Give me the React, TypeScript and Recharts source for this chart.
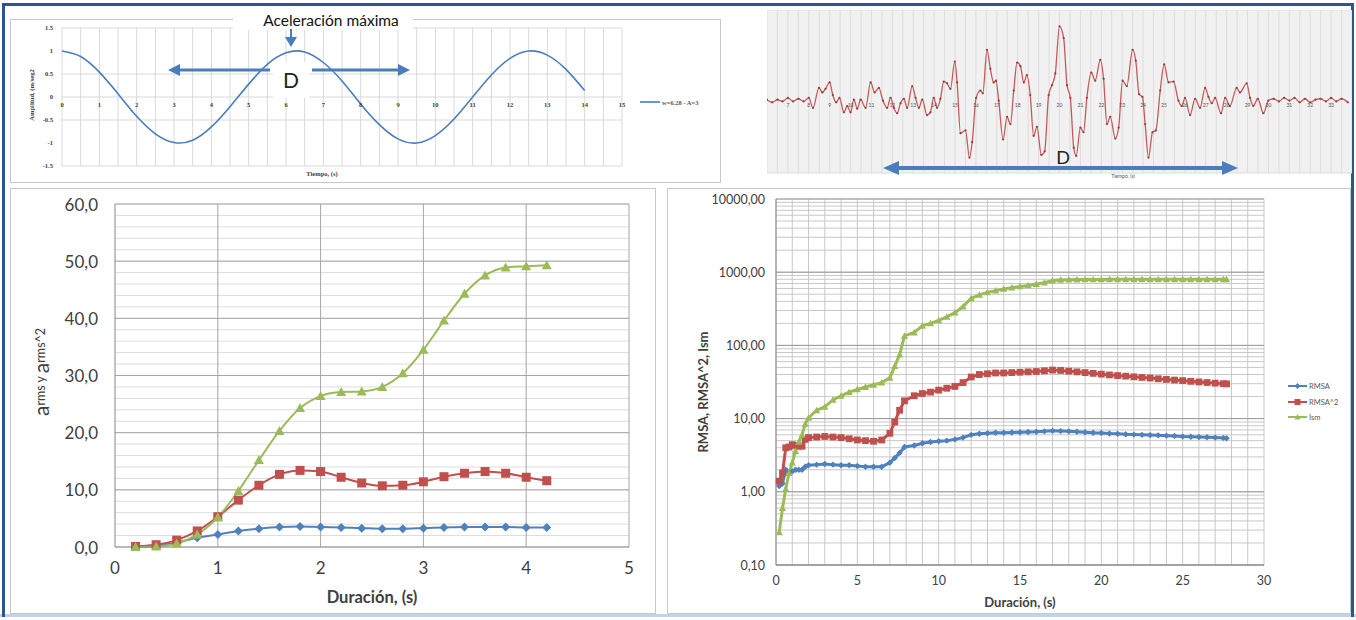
import React from "react";
import { LineChart, Line, XAxis, YAxis, CartesianGrid, ReferenceLine } from "recharts";

// ---------- top left: harmonic, w=6.28 - A=3 ----------
const sineTime = [0, 0.5, 1, 1.5, 2, 2.5, 3, 3.5, 4, 4.5, 5, 5.5, 6, 6.5, 7, 7.5, 8, 8.5, 9, 9.5, 10, 10.5, 11, 11.5, 12, 12.5, 13, 13.5, 14];
const sineAmp = [1, 0.88, 0.54, 0.07, -0.42, -0.8, -0.99, -0.94, -0.65, -0.21, 0.28, 0.71, 0.96, 0.98, 0.75, 0.35, -0.15, -0.6, -0.91, -1.0, -0.84, -0.48, 0.0, 0.48, 0.84, 1.0, 0.91, 0.6, 0.14];
const sineXTicks = Array.from({ length: 31 }, (_, i) => i / 2);
const sineYTicks = [-1.5, -1, -0.5, 0, 0.5, 1, 1.5];

// ---------- top right: accelerogram ----------
const sigTime = [
  6.0, 6.25, 6.5, 6.75, 7.0, 7.25, 7.5, 7.75, 8.0, 8.2, 8.49, 8.65, 8.8, 9.0, 9.15, 9.31, 9.47, 9.68, 9.84, 10.0,
  10.16, 10.32, 10.48, 10.72, 10.96, 11.15, 11.35, 11.55, 11.75, 11.91, 12.07, 12.23, 12.39, 12.55, 12.71, 12.95, 13.11, 13.27, 13.43, 13.66,
  13.82, 13.98, 14.14, 14.3, 14.46, 14.62, 14.78, 14.99, 15.1, 15.26, 15.5, 15.69, 15.82, 16.01, 16.21, 16.33, 16.53, 16.69, 16.85, 16.96,
  17.09, 17.3, 17.49, 17.65, 17.81, 17.97, 18.13, 18.29, 18.44, 18.6, 18.76, 18.92, 19.13, 19.29, 19.48, 19.64, 19.8, 20.0, 20.2, 20.36,
  20.52, 20.68, 20.8, 21.0, 21.15, 21.31, 21.52, 21.71, 21.95, 22.11, 22.27, 22.43, 22.67, 22.83, 23.02, 23.22, 23.5, 23.65, 23.81, 23.97,
  24.1, 24.26, 24.45, 24.61, 24.82, 25.01, 25.22, 25.46, 25.69, 25.85, 26.01, 26.25, 26.49, 26.73, 26.97, 27.13, 27.29, 27.45, 27.73, 27.93,
  28.16, 28.48, 28.64, 28.96, 29.12, 29.28, 29.49, 29.76, 30.0, 30.25, 30.5, 30.75, 31.0, 31.25, 31.5, 31.75, 32.0, 32.25, 32.5, 32.75,
  33.0, 33.25, 33.5, 33.8,
];
const sigValue = [
  0.05, -0.1, 0.05, -0.05, 0.15, -0.05, 0.1, -0.05, 0.15, -0.4, 0.7, 0.45, 0.65, 1.0, 0.3, -0.1, 0.15, -0.65, -0.3, -0.65,
  0.05, -0.45, 0.05, -0.4, 1.0, 0.45, 0.7, 0, -0.4, 0.15, -0.4, -0.7, -0.15, 0.1, -0.4, 0.8, 0.15, -0.4, 0.05, -0.8,
  -0.65, 0.15, -0.4, 0.1, 1.05, 0.95, 0.65, 2.15, 1.0, -1.8, -1.65, -3.15, -2.3, 0.15, 0.55, 0.4, 2.8, 1.75, 1.0, 1.1,
  0, -2.15, -0.9, -1.3, 0.55, 2.1, 1.9, 1.0, 1.4, 0.3, -1.95, -1.45, -3.0, -2.8, 0.3, 0.85, 1.5, 4.1, 3.45, 0.85,
  0.15, -2.6, -3.05, -1.5, -1.75, 0.15, 1.55, 1.1, 2.25, 1.2, -1.3, -0.9, -2.1, -1.5, 1.1, 0.8, 2.8, 2.2, 0.35, 0.2,
  -1.3, -3.15, -1.75, -1.65, 0.55, 2.0, 1.0, 1.05, 0, -0.3, 0.15, -0.8, 0.1, -0.4, 0.7, 0.2, -0.15, 0.15, -0.7, 0.15,
  -0.3, 0.7, 0.45, 0.95, 0.15, -0.3, 0.1, -0.7, 0, 0.1, -0.05, 0.15, 0, 0.15, -0.1, 0.1, -0.1, 0.05, 0.1, -0.05,
  0.15, -0.05, 0.1, -0.1,
];
const sigXTicks = Array.from({ length: 57 }, (_, i) => 6 + i / 2);
const sigYTicks = [-4, -3, -2, -1, 0, 1, 2, 3, 4, 5];

// ---------- bottom left: a_rms, a_rms^2, Ism vs duration ----------
const duration = [0.2, 0.4, 0.6, 0.8, 1.0, 1.2, 1.4, 1.6, 1.8, 2.0, 2.2, 2.4, 2.6, 2.8, 3.0, 3.2, 3.4, 3.6, 3.8, 4.0, 4.2];
const aRms = [0.1, 0.3, 0.8, 1.6, 2.2, 2.8, 3.2, 3.5, 3.6, 3.5, 3.4, 3.3, 3.2, 3.2, 3.3, 3.4, 3.5, 3.5, 3.5, 3.4, 3.4];
const aRms2 = [0.1, 0.4, 1.2, 2.8, 5.3, 8.2, 10.8, 12.7, 13.4, 13.2, 12.2, 11.2, 10.7, 10.8, 11.4, 12.3, 12.9, 13.2, 12.9, 12.2, 11.6];
const aIsm = [0, 0.1, 0.6, 2.2, 5.2, 9.8, 15.2, 20.3, 24.3, 26.4, 27.1, 27.2, 28.0, 30.4, 34.5, 39.6, 44.3, 47.5, 48.9, 49.1, 49.3];
const durTicks = [0, 1, 2, 3, 4, 5];
const aTicks = Array.from({ length: 31 }, (_, i) => i * 2);
const aMajor = [10, 20, 30, 40, 50, 60];

// ---------- bottom right: RMSA, RMSA^2, Ism (log) ----------
const logTime = [
  0.2, 0.4, 0.6, 0.8, 1.0, 1.2, 1.4, 1.6, 1.8, 2.0, 2.5, 3.0, 3.5, 4.0, 4.5, 5.0, 5.5, 6.0, 6.5, 7.0,
  7.3, 7.6, 7.9, 8.5, 9.0, 9.5, 10.0, 10.5, 11.0, 11.5, 12.0, 12.5, 13.0, 13.5, 14.0, 14.5, 15.0, 15.5, 16.0, 16.5,
  17.0, 17.5, 18.0, 18.5, 19.0, 19.5, 20.0, 20.5, 21.0, 21.5, 22.0, 22.5, 23.0, 23.5, 24.0, 24.5, 25.0, 25.5, 26.0, 26.5,
  27.0, 27.5, 27.7,
];
const rmsa = [
  1.2, 1.3, 2.0, 1.8, 1.9, 2.0, 2.0, 2.0, 2.2, 2.3, 2.35, 2.4, 2.35, 2.3, 2.3, 2.25, 2.2, 2.2, 2.2, 2.5,
  2.9, 3.4, 4.1, 4.3, 4.6, 4.8, 4.9, 5.0, 5.2, 5.5, 6.0, 6.2, 6.3, 6.4, 6.4, 6.45, 6.5, 6.55, 6.6, 6.7,
  6.8, 6.75, 6.7, 6.6, 6.5, 6.4, 6.35, 6.25, 6.2, 6.1, 6.05, 6.0, 5.95, 5.9, 5.85, 5.8, 5.7, 5.65, 5.6, 5.55,
  5.5, 5.45, 5.4,
];
const rmsa2 = [
  1.4, 1.8, 4.0, 4.1, 4.4, 4.3, 4.2, 4.2, 5.2, 5.5, 5.6, 5.7, 5.6, 5.5, 5.3, 5.1, 5.0, 4.9, 5.1, 6.3,
  9, 13, 17.5, 20.5, 22, 23, 24.5, 26, 27.5, 31, 37, 40, 41, 42, 42, 42.5, 43, 43.5, 44, 45,
  46, 45.5, 44.5, 43.5, 42.5, 41.5, 40.5, 39.5, 38.7, 38, 37.2, 36.5, 35.8, 35, 34.3, 33.6, 33, 32.3, 31.7, 31.1,
  30.5, 30, 29.8,
];
const ism = [
  0.28, 0.6, 1.1, 1.8, 2.5, 3.6, 4.8, 6.0, 8.5, 10.2, 13, 14.5, 18, 20.5, 23, 25, 27, 29, 31, 36,
  52, 75, 135, 150, 185, 200, 220, 245, 280, 340, 440, 490, 530, 560, 590, 615, 640, 660, 690, 720,
  770, 785, 790, 792, 795, 795, 797, 798, 800, 800, 800, 800, 800, 800, 800, 800, 800, 800, 800, 800,
  800, 800, 800,
];
const logTimeTicks = Array.from({ length: 31 }, (_, i) => i);
const decades = [0.1, 1, 10, 100, 1000, 10000];
const logTicks = decades.slice(0, 5).flatMap((d) => [1, 2, 3, 4, 5, 6, 7, 8, 9].map((m) => m * d)).concat([10000]);

const sineData = sineTime.map((t, i) => ({ t, a: sineAmp[i] }));
const sigData = sigTime.map((t, i) => ({ t, v: sigValue[i] }));
const durData = duration.map((t, i) => ({ t, rms: aRms[i], rms2: aRms2[i], ism: aIsm[i] }));
const logData = logTime.map((t, i) => ({ t, rmsa: rmsa[i], rmsa2: rmsa2[i], ism: ism[i] }));

const BLUE = "#4f81bd";
const RED = "#c0504d";
const GREEN = "#9bbb59";
const TXT = "#404040";
const FONT = "Lato, 'Open Sans', sans-serif";

const diamond = (color: string, r: number) => (p: any) => {
  const { cx, cy, index } = p;
  if (cx == null || cy == null) return <g key={index} />;
  return <polygon key={index} points={`${cx},${cy - r} ${cx + r},${cy} ${cx},${cy + r} ${cx - r},${cy}`} fill={color} />;
};
const square = (color: string, r: number) => (p: any) => {
  const { cx, cy, index } = p;
  if (cx == null || cy == null) return <g key={index} />;
  return <rect key={index} x={cx - r} y={cy - r} width={2 * r} height={2 * r} fill={color} />;
};
const triangle = (color: string, r: number) => (p: any) => {
  const { cx, cy, index } = p;
  if (cx == null || cy == null) return <g key={index} />;
  return <polygon key={index} points={`${cx},${cy - r} ${cx + r},${cy + r * 0.8} ${cx - r},${cy + r * 0.8}`} fill={color} />;
};
const smallDot = (p: any) => {
  const { cx, cy, index } = p;
  if (cx == null || cy == null) return <g key={index} />;
  return <circle key={index} cx={cx} cy={cy} r={1.1} fill="#9b3b3b" />;
};

const comma = (v: number, d: number) => v.toFixed(d).replace(".", ",");
const isDecade = (v: number) => decades.some((d) => Math.abs(v - d) < d * 1e-6);

export default function App() {
  return (
    <div style={{ position: "relative", width: 1356, height: 620, background: "#fff", overflow: "hidden" }}>
      <style>{"body{margin:0}"}</style>

      {/* frames */}
      <svg width={1356} height={620} style={{ position: "absolute", left: 0, top: 0 }}>
        <rect x={10.5} y={19.5} width={710} height={163} fill="#fff" stroke="#c8c8c8" />
        <rect x={10.5} y={188.5} width={645} height={425} fill="#fff" stroke="#c8c8c8" />
        <rect x={667.5} y={188.5} width={683} height={425} fill="#fff" stroke="#c8c8c8" />
        <line x1={0} y1={615.5} x2={1356} y2={615.5} stroke="#bdd3ee" strokeWidth={3} />
        <line x1={3.5} y1={3} x2={3.5} y2={617} stroke="#2f5496" strokeWidth={3} />
        <line x1={2} y1={4.5} x2={1354} y2={4.5} stroke="#2f5496" strokeWidth={3} />
        <line x1={1352.5} y1={3} x2={1352.5} y2={617} stroke="#2f5496" strokeWidth={3} />
      </svg>

      {/* top left */}
      <div style={{ position: "absolute", left: 10, top: 19 }}>
        <LineChart width={710} height={163} data={sineData} margin={{ top: 9, right: 98, bottom: 0, left: 0 }}>
          <CartesianGrid stroke="#d9d9d9" />
          <XAxis
            dataKey="t"
            type="number"
            domain={[0, 15]}
            ticks={sineXTicks}
            interval={0}
            height={16}
            tickSize={0}
            tickMargin={0}
            axisLine={false}
            tickLine={false}
            tick={(p: any) =>
              Number.isInteger(p.payload.value) ? (
                <text x={p.x} y={p.y - 62} textAnchor="middle" dominantBaseline="central" fontSize={6.5} fontWeight="bold" fill={TXT} fontFamily="'Liberation Serif', serif">
                  {p.payload.value}
                </text>
              ) : (
                <g />
              )
            }
          />
          <YAxis
            type="number"
            domain={[-1.5, 1.5]}
            ticks={sineYTicks}
            width={52}
            tickSize={0}
            tickMargin={9}
            axisLine={false}
            tickLine={false}
            tick={{ fontSize: 6.5, fontWeight: "bold", fill: TXT, fontFamily: "'Liberation Serif', serif" }}
          />
          <Line dataKey="a" type="natural" stroke="#4a7ebb" strokeWidth={1.6} dot={false} activeDot={false} isAnimationActive={false} />
        </LineChart>
      </div>

      {/* top right */}
      <div style={{ position: "absolute", left: 767, top: 10 }}>
        <LineChart width={585} height={172} data={sigData} margin={{ top: 0, right: 0, bottom: 0, left: 0 }}>
          <CartesianGrid stroke="#dddddd" fill="#f1f1f1" />
          <XAxis
            dataKey="t"
            type="number"
            domain={[6, 34]}
            ticks={sigXTicks}
            interval={0}
            height={9}
            tickSize={0}
            tickMargin={0}
            axisLine={false}
            tickLine={false}
            tick={(p: any) =>
              Number.isInteger(p.payload.value) && p.payload.value > 6 && p.payload.value < 34 ? (
                <text x={p.x} y={p.y - 68} textAnchor="middle" dominantBaseline="central" fontSize={5} fill="#555" fontFamily={FONT}>
                  {p.payload.value}
                </text>
              ) : (
                <g />
              )
            }
          />
          <YAxis type="number" domain={[-4, 5]} ticks={sigYTicks} width={0} tick={false} axisLine={false} tickLine={false} />
          <Line dataKey="v" type="monotone" stroke="#c55a5a" strokeWidth={1.3} dot={smallDot} activeDot={false} isAnimationActive={false} />
        </LineChart>
      </div>

      {/* bottom left */}
      <div style={{ position: "absolute", left: 10, top: 188 }}>
        <LineChart width={645} height={425} data={durData} margin={{ top: 16, right: 26, bottom: 0, left: 0 }}>
          <CartesianGrid stroke="#dcdcdc" vertical={false} />
          {aMajor.map((v) => (
            <ReferenceLine key={`h${v}`} y={v} stroke="#a6a6a6" />
          ))}
          {durTicks.slice(1).map((v) => (
            <ReferenceLine key={`v${v}`} x={v} stroke="#a6a6a6" />
          ))}
          <XAxis
            dataKey="t"
            type="number"
            domain={[0, 5]}
            ticks={durTicks}
            interval={0}
            height={66}
            tickSize={0}
            tickMargin={0}
            axisLine={{ stroke: "#868686" }}
            tickLine={false}
            tick={(p: any) => (
              <text x={p.x} y={p.y + 20} textAnchor="middle" dominantBaseline="central" fontSize={17} fill={TXT} fontFamily={FONT}>
                {p.payload.value}
              </text>
            )}
          />
          <YAxis
            type="number"
            domain={[0, 60]}
            ticks={aTicks}
            interval={0}
            width={105}
            tickSize={0}
            tickMargin={0}
            axisLine={{ stroke: "#868686" }}
            tickLine={false}
            tick={(p: any) =>
              p.payload.value % 10 === 0 ? (
                <text x={p.x - 17} y={p.y} textAnchor="end" dominantBaseline="central" fontSize={17} fill={TXT} fontFamily={FONT}>
                  {comma(p.payload.value, 1)}
                </text>
              ) : (
                <g />
              )
            }
          />
          <Line dataKey="rms" type="monotone" stroke={BLUE} strokeWidth={2} dot={diamond(BLUE, 4.5)} activeDot={false} isAnimationActive={false} />
          <Line dataKey="rms2" type="monotone" stroke={RED} strokeWidth={2} dot={square(RED, 4.5)} activeDot={false} isAnimationActive={false} />
          <Line dataKey="ism" type="monotone" stroke={GREEN} strokeWidth={2} dot={triangle(GREEN, 5)} activeDot={false} isAnimationActive={false} />
        </LineChart>
      </div>

      {/* bottom right */}
      <div style={{ position: "absolute", left: 667, top: 188 }}>
        <LineChart width={683} height={425} data={logData} margin={{ top: 11, right: 86, bottom: 0, left: 0 }}>
          <CartesianGrid stroke="#c8c8c8" />
          {decades.map((v) => (
            <ReferenceLine key={`d${v}`} y={v} stroke="#9a9a9a" />
          ))}
          <XAxis
            dataKey="t"
            type="number"
            domain={[0, 30]}
            ticks={logTimeTicks}
            interval={0}
            height={48}
            tickSize={0}
            tickMargin={0}
            axisLine={{ stroke: "#868686" }}
            tickLine={false}
            tick={(p: any) =>
              p.payload.value % 5 === 0 ? (
                <text x={p.x} y={p.y + 15} textAnchor="middle" dominantBaseline="central" fontSize={12.5} fill={TXT} fontFamily={FONT}>
                  {p.payload.value}
                </text>
              ) : (
                <g />
              )
            }
          />
          <YAxis
            type="number"
            scale="log"
            domain={[0.1, 10000]}
            allowDataOverflow
            ticks={logTicks}
            interval={0}
            width={109}
            tickSize={0}
            tickMargin={0}
            axisLine={{ stroke: "#868686" }}
            tickLine={false}
            tick={(p: any) =>
              isDecade(p.payload.value) ? (
                <text x={p.x - 11} y={p.y} textAnchor="end" dominantBaseline="central" fontSize={12.5} fill={TXT} fontFamily={FONT}>
                  {comma(p.payload.value, 2)}
                </text>
              ) : (
                <g />
              )
            }
          />
          <Line dataKey="rmsa" type="linear" stroke={BLUE} strokeWidth={3} dot={diamond(BLUE, 3.2)} activeDot={false} isAnimationActive={false} />
          <Line dataKey="rmsa2" type="linear" stroke={RED} strokeWidth={3} dot={square(RED, 3.4)} activeDot={false} isAnimationActive={false} />
          <Line dataKey="ism" type="linear" stroke={GREEN} strokeWidth={3} dot={triangle(GREEN, 3.6)} activeDot={false} isAnimationActive={false} />
        </LineChart>
      </div>

      {/* annotations, titles, legends */}
      <svg width={1356} height={620} style={{ position: "absolute", left: 0, top: 0, pointerEvents: "none" }}>
        {/* top left */}
        <rect x={233} y={7} width={180} height={23} fill="#fff" />
        <text x={331} y={20} textAnchor="middle" dominantBaseline="central" fontSize={15.5} fill="#111" fontFamily={FONT}>
          Aceleración máxima
        </text>
        <line x1={291} y1={29} x2={291} y2={38} stroke="#4a7ebb" strokeWidth={2} />
        <polygon points="285,37 297,37 291,47" fill="#4a7ebb" />
        <line x1={270} y1={70} x2={178} y2={70} stroke="#4a7ebb" strokeWidth={3} />
        <polygon points="168,70 180,64 180,76" fill="#4a7ebb" />
        <line x1={312} y1={70} x2={400} y2={70} stroke="#4a7ebb" strokeWidth={3} />
        <polygon points="410,70 398,64 398,76" fill="#4a7ebb" />
        <rect x={273} y={62} width={36} height={36} fill="#fff" />
        <text x={291} y={79} textAnchor="middle" dominantBaseline="central" fontSize={21} fill="#222" fontFamily={FONT}>
          D
        </text>
        <text transform="translate(31,95) rotate(-90)" textAnchor="middle" dominantBaseline="central" fontSize={6.5} fontWeight="bold" fill={TXT} fontFamily="'Liberation Serif', serif">
          Amplitud, (m/seg2
        </text>
        <text x={322} y={173} textAnchor="middle" dominantBaseline="central" fontSize={6.5} fontWeight="bold" fill={TXT} fontFamily="'Liberation Serif', serif">
          Tiempo, (s)
        </text>
        <line x1={640} y1={102} x2={660} y2={102} stroke="#4a7ebb" strokeWidth={1.6} />
        <text x={662} y={102} dominantBaseline="central" fontSize={6.5} fontWeight="bold" fill="#595959" fontFamily="'Liberation Serif', serif">
          w=6.28 - A=3
        </text>

        {/* top right */}
        <line x1={896} y1={168} x2={1225} y2={168} stroke="#4a7ebb" strokeWidth={4} />
        <polygon points="883,168 899,161 899,175" fill="#4a7ebb" />
        <polygon points="1238,168 1222,161 1222,175" fill="#4a7ebb" />
        <text x={1063} y={157} textAnchor="middle" dominantBaseline="central" fontSize={18} fill="#222" fontFamily={FONT}>
          D
        </text>
        <text x={1123} y={176} textAnchor="middle" dominantBaseline="central" fontSize={5} fill="#555" fontFamily={FONT}>
          Tiempo, (s)
        </text>

        {/* bottom left */}
        <text transform="translate(40,372) rotate(-90)" textAnchor="middle" dominantBaseline="central" fill={TXT} fontFamily={FONT}>
          <tspan fontSize={21}>a</tspan>
          <tspan fontSize={12.5}>rms y </tspan>
          <tspan fontSize={21}>a</tspan>
          <tspan fontSize={12.5}>rms^2</tspan>
        </text>
        <text x={372} y={597} textAnchor="middle" dominantBaseline="central" fontSize={16.5} fontWeight="bold" fill={TXT} fontFamily={FONT}>
          Duración, (s)
        </text>

        {/* bottom right */}
        <text transform="translate(703,392) rotate(-90)" textAnchor="middle" dominantBaseline="central" fontSize={13} fontWeight="bold" fill={TXT} fontFamily={FONT}>
          RMSA, RMSA^2, Ism
        </text>
        <text x={1020} y={602} textAnchor="middle" dominantBaseline="central" fontSize={13} fontWeight="bold" fill={TXT} fontFamily={FONT}>
          Duración, (s)
        </text>
        {[
          { label: "RMSA", color: BLUE, y: 386, mark: "d" },
          { label: "RMSA^2", color: RED, y: 402, mark: "s" },
          { label: "Ism", color: GREEN, y: 417, mark: "t" },
        ].map((e) => (
          <g key={e.label}>
            <line x1={1288} y1={e.y} x2={1307} y2={e.y} stroke={e.color} strokeWidth={2} />
            {e.mark === "d" && <polygon points={`1297.5,${e.y - 3} 1300.5,${e.y} 1297.5,${e.y + 3} 1294.5,${e.y}`} fill={e.color} />}
            {e.mark === "s" && <rect x={1294.5} y={e.y - 3} width={6} height={6} fill={e.color} />}
            {e.mark === "t" && <polygon points={`1297.5,${e.y - 3} 1300.5,${e.y + 2.5} 1294.5,${e.y + 2.5}`} fill={e.color} />}
            <text x={1309} y={e.y} dominantBaseline="central" fontSize={7.5} fill="#595959" fontFamily={FONT}>
              {e.label}
            </text>
          </g>
        ))}
      </svg>
    </div>
  );
}
